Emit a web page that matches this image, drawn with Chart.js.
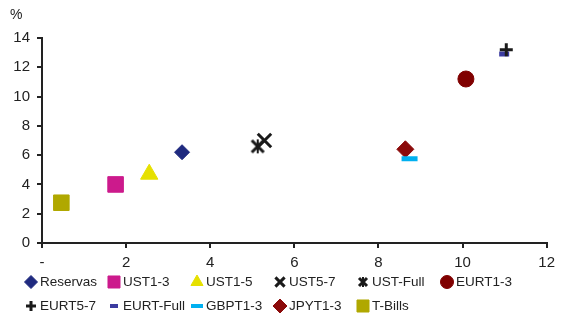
<!DOCTYPE html>
<html>
<head>
<meta charset="utf-8">
<script src="https://cdn.jsdelivr.net/npm/chart.js@4"></script>
<style>
    html, body { margin: 0; padding: 0; background: #fff; }
    #wrap { position: relative; width: 561px; height: 320px; }
</style>
</head>
<body>
<div id="wrap"><canvas id="myChart" width="561" height="320"></canvas></div>
<script>
// duration (years) vs yield (%) per portfolio
const seriesNames = ["Reservas", "UST1-3", "UST1-5", "UST5-7", "UST-Full", "EURT1-3",
    "EURT5-7", "EURT-Full", "GBPT1-3", "JPYT1-3", "T-Bills"];
const durations = [3.33, 1.75, 2.55, 5.29, 5.13, 10.08, 11.04, 10.99, 8.74, 8.64, 0.46];
const yields = [6.2, 4.0, 4.7, 7.0, 6.6, 11.2, 13.2, 12.9, 5.75, 6.4, 2.75];
const xTicks = [0, 2, 4, 6, 8, 10, 12];
const yTicks = [0, 2, 4, 6, 8, 10, 12, 14];

// bold x with a vertical bar, used for UST-Full
function asteriskMark(size, lw) {
    const c = document.createElement("canvas");
    c.width = size;
    c.height = size;
    const g = c.getContext("2d");
    g.strokeStyle = "#1a1a1a";
    g.lineWidth = lw;
    const p = lw / 2 + 0.5;
    g.beginPath();
    g.moveTo(p, p);
    g.lineTo(size - p, size - p);
    g.moveTo(size - p, p);
    g.lineTo(p, size - p);
    g.stroke();
    g.lineWidth = 2;
    g.beginPath();
    g.moveTo(size / 2, 1);
    g.lineTo(size / 2, size - 1);
    g.stroke();
    return c;
}

// marker look per series: [style, radius, fill, border, borderWidth]
const markers = [
    ["rectRot", 7.5, "#1f2a7f", "#1f2a7f", 1],
    ["rect", 11, "#cc1a8c", "#cc1a8c", 1],
    ["triangle", 10, "#e6e000", "#e6e000", 1],
    ["crossRot", 9.5, "#1a1a1a", "#1a1a1a", 3],
    [asteriskMark(16, 3), 8, "#1a1a1a", "#1a1a1a", 3],
    ["circle", 8, "#800000", "#800000", 1],
    ["cross", 6.5, "#1a1a1a", "#1a1a1a", 3],
    ["line", 5, "#3b3ba0", "#3b3ba0", 5],
    ["line", 8, "#00b0f0", "#00b0f0", 5],
    ["rectRot", 8.5, "#8b0a0a", "#8b0a0a", 1],
    ["rect", 11, "#b0a800", "#b0a800", 1],
];

// smaller markers for the legend rows
const legendRadius = [6.5, 8.5, 7, 6.5, 6, 6.5, 5, 4, 6, 7, 8.5];
const legendAsterisk = asteriskMark(12, 3);

const datasets = seriesNames.map((name, i) => {
    const m = markers[i];
    return {
        label: name,
        data: [{ x: durations[i], y: yields[i] }],
        pointStyle: m[0],
        pointRadius: m[1],
        backgroundColor: m[2],
        borderColor: m[3],
        pointBorderWidth: m[4],
        showLine: false,
    };
});

const tickFont = { family: "'Liberation Sans', Arial, sans-serif", size: 15 };

// legend in two rows of six fixed columns, plus the "%" unit label
const gridLegend = {
    id: "gridLegend",
    afterDraw(chart) {
        const ctx = chart.ctx;
        ctx.save();
        ctx.font = "14px 'Liberation Sans', Arial, sans-serif";
        ctx.fillStyle = "#222";
        ctx.textBaseline = "middle";
        ctx.fillText("%", 10, 15);

        ctx.font = "13.5px 'Liberation Sans', Arial, sans-serif";
        const colX = [40, 123, 206, 289, 372, 456];
        const rowY = [282, 306];
        chart.data.datasets.forEach((ds, i) => {
            const tx = colX[i % 6];
            const ty = rowY[Math.floor(i / 6)];
            const m = markers[i];
            const style = typeof m[0] === "string" ? m[0] : legendAsterisk;
            ctx.fillStyle = m[2];
            ctx.strokeStyle = m[3];
            ctx.lineWidth = m[0] === "line" ? 4 : (m[4] > 1 ? 3 : 1);
            Chart.helpers.drawPoint(ctx, {
                pointStyle: style,
                radius: legendRadius[i],
                rotation: 0,
                borderWidth: ctx.lineWidth,
            }, tx - 9, ty);
            ctx.fillStyle = "#222";
            ctx.fillText(ds.label, tx, ty);
        });
        ctx.restore();
    },
};

const config = {
    type: "scatter",
    data: { datasets: datasets },
    options: {
        responsive: false,
        animation: false,
        events: [],
        layout: { padding: { left: 0, top: 38, right: 9, bottom: 50 } },
        plugins: {
            legend: { display: false },
            tooltip: { enabled: false },
        },
        scales: {
            x: {
                type: "linear",
                min: 0,
                max: 12,
                afterBuildTicks: (scale) => {
                    scale.ticks = xTicks.map((v) => ({ value: v }));
                },
                afterFit: (scale) => { scale.height = 27; },
                border: { display: true, color: "#222", width: 2 },
                grid: { drawOnChartArea: false, drawTicks: true, tickLength: 5, color: "#222", lineWidth: 2 },
                ticks: {
                    color: "#222",
                    font: tickFont,
                    padding: 6,
                    maxRotation: 0,
                    callback: (v) => (v === 0 ? "-" : v),
                },
            },
            y: {
                type: "linear",
                min: 0,
                max: 14,
                afterBuildTicks: (scale) => {
                    scale.ticks = yTicks.map((v) => ({ value: v }));
                },
                afterFit: (scale) => { scale.width = 42; },
                border: { display: true, color: "#222", width: 2 },
                grid: { drawOnChartArea: false, drawTicks: true, tickLength: 5, color: "#222", lineWidth: 2 },
                ticks: { color: "#222", font: tickFont, padding: 7 },
            },
        },
    },
    plugins: [gridLegend],
};

document.addEventListener("DOMContentLoaded", function () {
    const ctx = document.getElementById("myChart").getContext("2d");
    const myChart = new Chart(ctx, config);
});
</script>
</body>
</html>
